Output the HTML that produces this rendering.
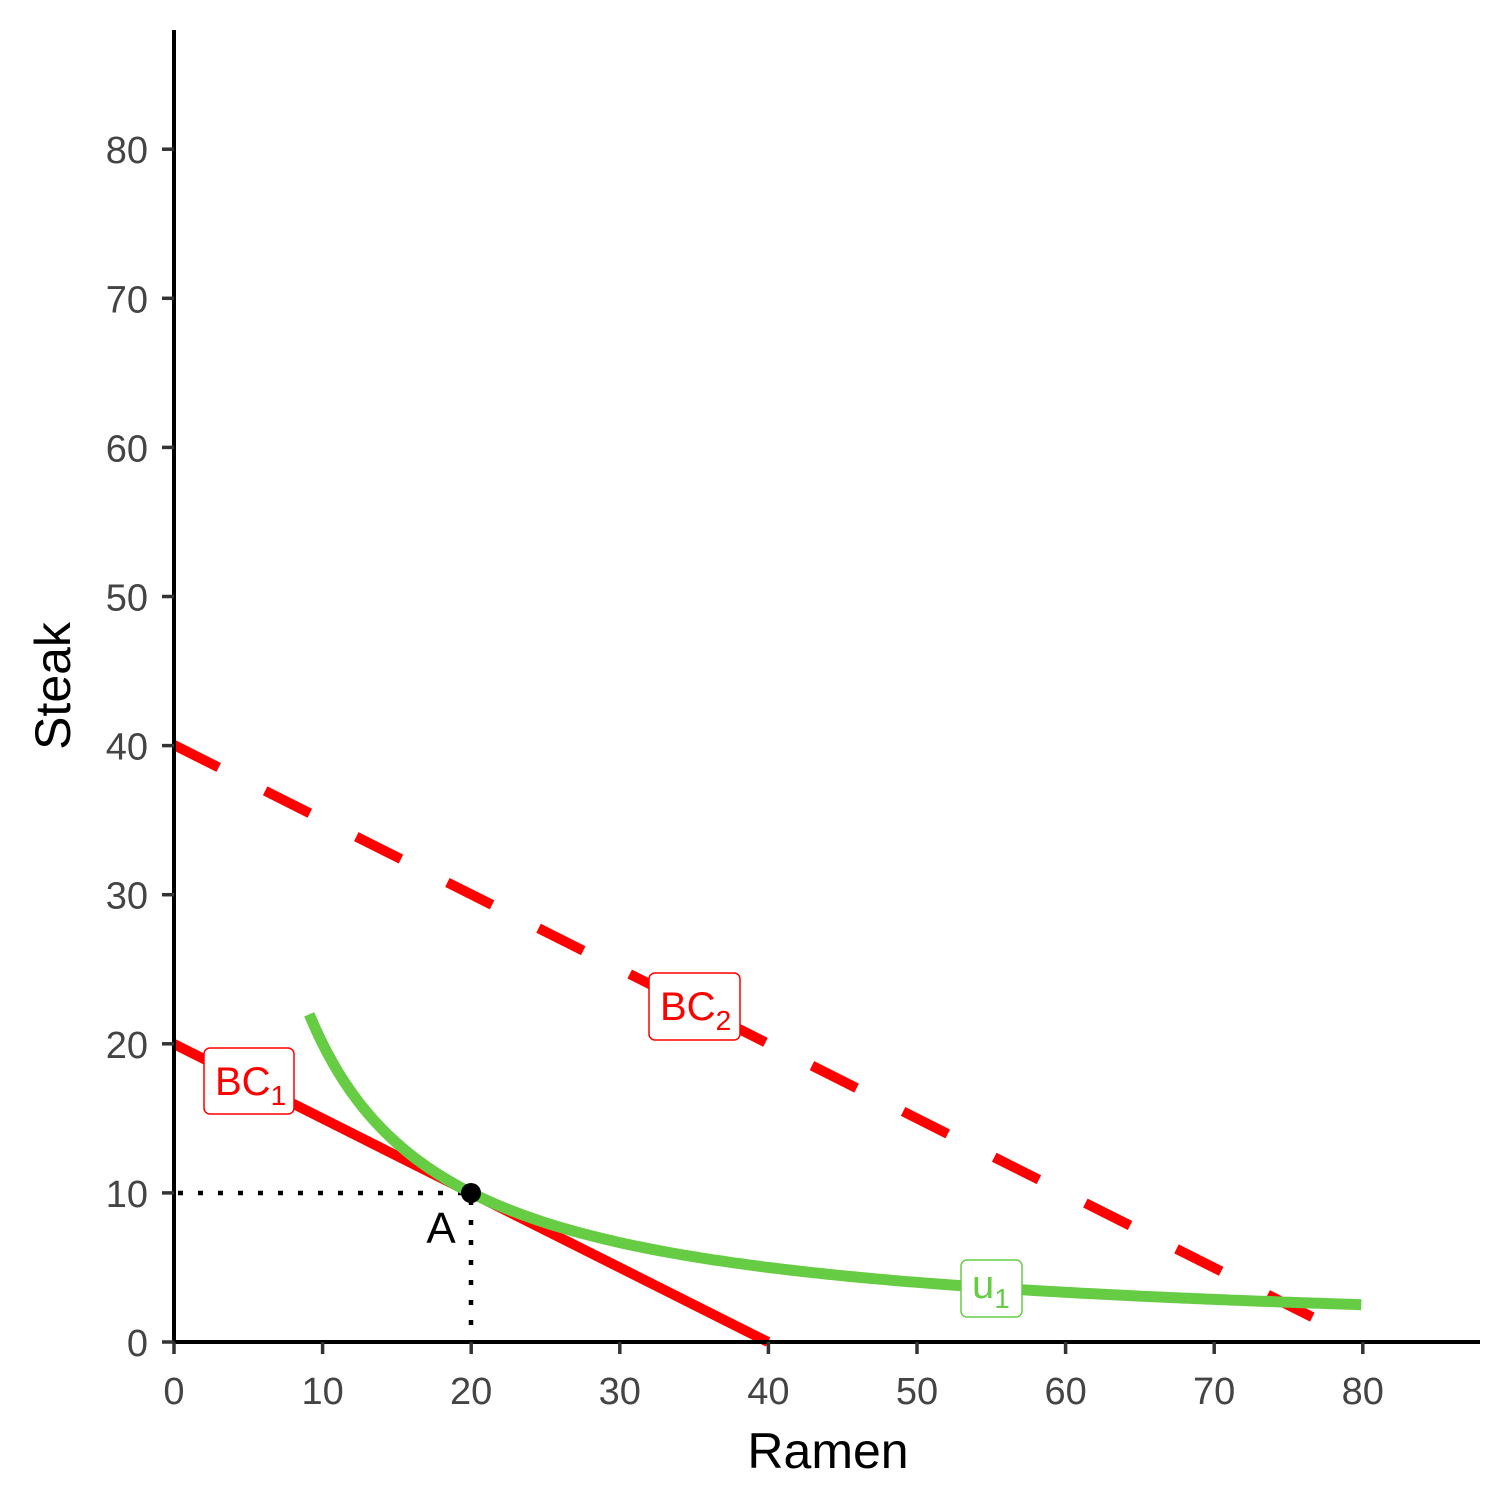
<!DOCTYPE html>
<html><head><meta charset="utf-8"><style>body{margin:0;background:#fff}svg{display:block}</style></head>
<body>
<svg id="s" width="1512" height="1512" xmlns="http://www.w3.org/2000/svg" font-family="Liberation Sans, sans-serif">
<rect width="1512" height="1512" fill="#fff"/>
<g stroke="#000" stroke-width="4.5" stroke-dasharray="5,15">
<line x1="178" y1="1193" x2="471" y2="1193"/>
<line x1="471" y1="1200" x2="471" y2="1338"/>
</g>
<line x1="174" y1="1044" x2="768" y2="1342" stroke="#ff0000" stroke-width="10"/>
<line x1="174" y1="745" x2="1318" y2="1320" stroke="#ff0000" stroke-width="10" stroke-dasharray="50,52"/>
<path id="u" fill="none" stroke="#66cc44" stroke-width="11"/>
<circle cx="471" cy="1193" r="10" fill="#000"/>
<text x="441" y="1243" font-size="44" text-anchor="middle">A</text>
<g stroke="#000" stroke-width="4" fill="none">
<line x1="174" y1="30" x2="174" y2="1344"/>
<line x1="172" y1="1342" x2="1480" y2="1342"/>
</g>
<g id="ticks" stroke="#333" stroke-width="3.5"></g>
<g id="lbl" font-size="38" fill="#444"></g>
<rect x="204" y="1048" width="90" height="66" rx="6" fill="#fff" stroke="#ff0000" stroke-width="1.5"/>
<text x="215" y="1095" font-size="40" fill="#ff0000">BC<tspan font-size="28" dy="10">1</tspan></text>
<rect x="649" y="973" width="91" height="67" rx="6" fill="#fff" stroke="#ff0000" stroke-width="1.5"/>
<text x="660" y="1020" font-size="40" fill="#ff0000">BC<tspan font-size="28" dy="10">2</tspan></text>
<rect x="961" y="1260" width="61" height="57" rx="6" fill="#fff" stroke="#66cc44" stroke-width="1.5"/>
<text x="972" y="1298" font-size="40" fill="#66cc44">u<tspan font-size="28" dy="10">1</tspan></text>
<text x="828" y="1468" font-size="50" text-anchor="middle">Ramen</text>
<text transform="translate(70,686) rotate(-90)" font-size="50" text-anchor="middle">Steak</text>
</svg>
<script>
var X=function(x){return 174+x*14.86},Y=function(y){return 1342-y*14.91};
var d="";for(var x=9.1;x<=80.001;x+=0.4){d+=(d?"L":"M")+X(x).toFixed(1)+","+Y(200/x).toFixed(1);}
document.getElementById("u").setAttribute("d",d);
var t="",l="";
for(var i=0;i<=8;i++){var v=i*10,xp=X(v),yp=Y(v);
t+='<line x1="'+xp+'" y1="1342" x2="'+xp+'" y2="1354"/><line x1="162" y1="'+yp+'" x2="174" y2="'+yp+'"/>';
l+='<text x="'+xp+'" y="1404" text-anchor="middle">'+v+'</text><text x="148" y="'+(yp+14)+'" text-anchor="end">'+v+'</text>';}
document.getElementById("ticks").innerHTML=t;document.getElementById("lbl").innerHTML=l;
</script>
</body></html>
